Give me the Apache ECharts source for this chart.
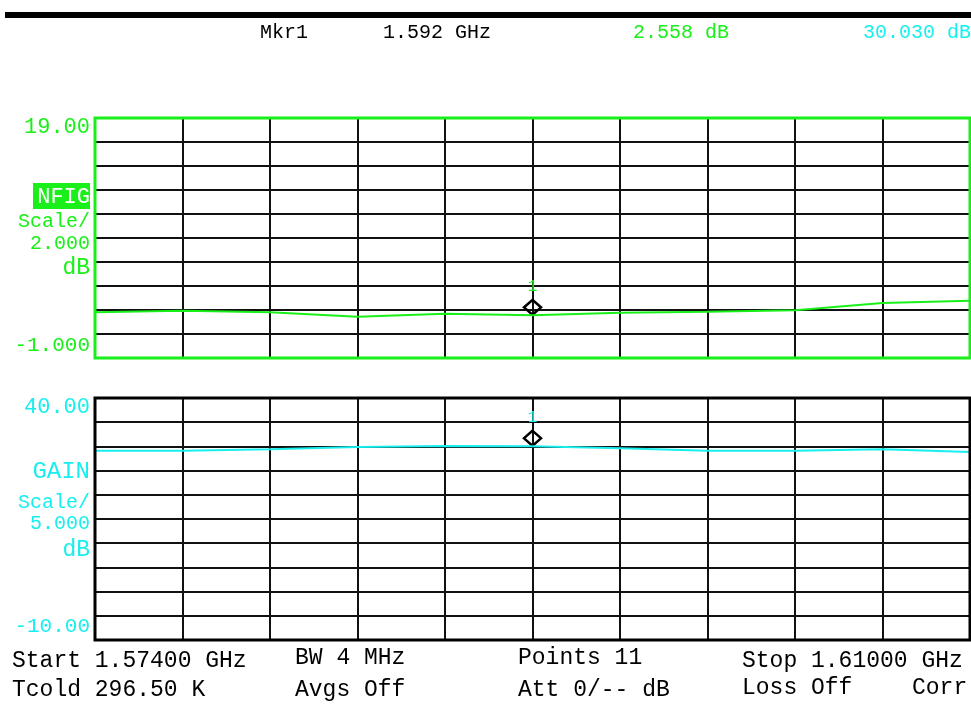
<!DOCTYPE html>
<html>
<head>
<meta charset="utf-8">
<script src="https://cdn.jsdelivr.net/npm/echarts@6/dist/echarts.min.js"></script>
<style>
html,body{margin:0;padding:0;background:#fff;}
#chart{width:971px;height:704px;}
</style>
</head>
<body>
<div id="chart"></div>
<script>
// ---- data ----
const freqs = ['1.5740','1.5776','1.5812','1.5848','1.5884','1.5920','1.5956','1.5992','1.6028','1.6064','1.6100'];
const nfigValues = [2.81, 2.94, 2.81, 2.44, 2.69, 2.558, 2.78, 2.86, 2.97, 3.58, 3.78];
const gainValues = [29.11, 29.10, 29.40, 29.88, 30.10, 30.03, 29.60, 29.10, 29.10, 29.40, 28.84];
const nfigTicks = [-1, 1, 3, 5, 7, 9, 11, 13, 15, 17, 19];
const nfigRange = [-1, 19];
const gainRange = [-10, 40];
const gainInterval = 5;
const markerIndex = 5;
const nfigAxisLabels = ['19.00', '-1.000'];
const gainAxisLabels = ['40.00', '-10.00'];
const headerTexts = ['Mkr1', '1.592 GHz', '2.558 dB', '30.030 dB'];
const footerRow1 = ['Start 1.57400 GHz', 'BW 4 MHz', 'Points 11', 'Stop 1.61000 GHz'];
const footerRow2 = ['Tcold 296.50 K', 'Avgs Off', 'Att 0/-- dB', 'Loss Off', 'Corr'];

// ---- style ----
const GREEN = '#19f019';
const CYAN = '#19eeee';
const GRID_C = '#111';
const FONT = '"Liberation Mono","DejaVu Sans Mono",monospace';
const L = 95, R = 970;
const T1 = 118, B1 = 358, T2 = 398, B2 = 640;

const chart = echarts.init(document.getElementById('chart'), null, {renderer: 'canvas'});

function xAxisCfg(gi) {
  return {
    type: 'category', gridIndex: gi, data: freqs, boundaryGap: false,
    axisLine: {show: false}, axisTick: {show: false},
    axisLabel: {show: false, interval: 0},
    splitLine: {show: true, interval: 0, lineStyle: {color: GRID_C, width: 2}}
  };
}

function txt(x, y, s, color, size, align, extra) {
  return Object.assign({
    type: 'text', x: x, y: y, z: 200,
    style: {text: s, fill: color, font: size + 'px ' + FONT, textAlign: align || 'left', textVerticalAlign: 'middle'}
  }, extra || {});
}

const graphics = [
  {type: 'rect', shape: {x: 5, y: 12, width: 966, height: 6}, style: {fill: '#000'}, z: 200},
  {type: 'rect', shape: {x: L, y: T1, width: R - L, height: B1 - T1}, style: {fill: 'none', stroke: GREEN, lineWidth: 3}, z: 150},
  {type: 'rect', shape: {x: L, y: T2, width: R - L, height: B2 - T2}, style: {fill: 'none', stroke: '#000', lineWidth: 3}, z: 150},
  txt(260, 33, headerTexts[0], '#000', 20),
  txt(383, 33, headerTexts[1], '#000', 20),
  txt(633, 33, headerTexts[2], GREEN, 20),
  txt(971, 33, headerTexts[3], CYAN, 20, 'right'),
  txt(90, 127, nfigAxisLabels[0], GREEN, 22, 'right'),
  txt(90, 345, nfigAxisLabels[1], GREEN, 21, 'right'),
  {type: 'rect', shape: {x: 33, y: 183, width: 57, height: 26}, style: {fill: GREEN}, z: 190},
  txt(90, 197, 'NFIG', '#fff', 22, 'right'),
  txt(90, 222, 'Scale/', GREEN, 20, 'right'),
  txt(90, 244, '2.000', GREEN, 20, 'right'),
  txt(90, 268, 'dB', GREEN, 23, 'right'),
  txt(90, 407, gainAxisLabels[0], CYAN, 22, 'right'),
  txt(90, 626, gainAxisLabels[1], CYAN, 21, 'right'),
  txt(90, 472, 'GAIN', CYAN, 24, 'right'),
  txt(90, 503, 'Scale/', CYAN, 20, 'right'),
  txt(90, 524, '5.000', CYAN, 20, 'right'),
  txt(90, 550, 'dB', CYAN, 23, 'right'),
  txt(12, 661, footerRow1[0], '#000', 23),
  txt(295, 658, footerRow1[1], '#000', 23),
  txt(518, 658, footerRow1[2], '#000', 23),
  txt(742, 661, footerRow1[3], '#000', 23),
  txt(12, 690, footerRow2[0], '#000', 23),
  txt(295, 690, footerRow2[1], '#000', 23),
  txt(518, 690, footerRow2[2], '#000', 23),
  txt(742, 688, footerRow2[3], '#000', 23),
  txt(912, 688, footerRow2[4], '#000', 23)
];

function markerCfg(values, color) {
  return {
    silent: true,
    symbol: 'diamond', symbolSize: [17, 15], symbolOffset: [0, -8],
    itemStyle: {color: 'rgba(0,0,0,0)', borderColor: '#000', borderWidth: 2.5},
    label: {show: true, formatter: '1', position: 'top', distance: 4, color: color, fontSize: 16, fontFamily: FONT},
    data: [{coord: [freqs[markerIndex], values[markerIndex]]}]
  };
}

chart.setOption({
  animation: false,
  backgroundColor: '#fff',
  grid: [
    {left: L, top: T1, width: R - L, height: B1 - T1, show: false},
    {left: L, top: T2, width: R - L, height: B2 - T2, show: false}
  ],
  xAxis: [xAxisCfg(0), xAxisCfg(1)],
  yAxis: [
    {type: 'value', gridIndex: 0, min: nfigRange[0], max: nfigRange[1],
     axisLine: {show: false}, axisTick: {show: false}, axisLabel: {show: false}, splitLine: {show: false}},
    {type: 'value', gridIndex: 1, min: gainRange[0], max: gainRange[1], interval: gainInterval,
     axisLine: {show: false}, axisTick: {show: false}, axisLabel: {show: false},
     splitLine: {show: true, lineStyle: {color: GRID_C, width: 2}}}
  ],
  series: [
    {
      name: 'NFIG', type: 'line', xAxisIndex: 0, yAxisIndex: 0, data: nfigValues,
      showSymbol: false, lineStyle: {color: GREEN, width: 2}, z: 5,
      markLine: {
        silent: true, symbol: ['none', 'none'], label: {show: false}, z: 3,
        lineStyle: {color: GRID_C, width: 2, type: 'solid'},
        data: nfigTicks.map(v => ({yAxis: v}))
      },
      markPoint: markerCfg(nfigValues, GREEN)
    },
    {
      name: 'GAIN', type: 'line', xAxisIndex: 1, yAxisIndex: 1, data: gainValues,
      showSymbol: false, lineStyle: {color: CYAN, width: 2}, z: 5,
      markPoint: markerCfg(gainValues, CYAN)
    }
  ],
  graphic: graphics
});
</script>
</body>
</html>
